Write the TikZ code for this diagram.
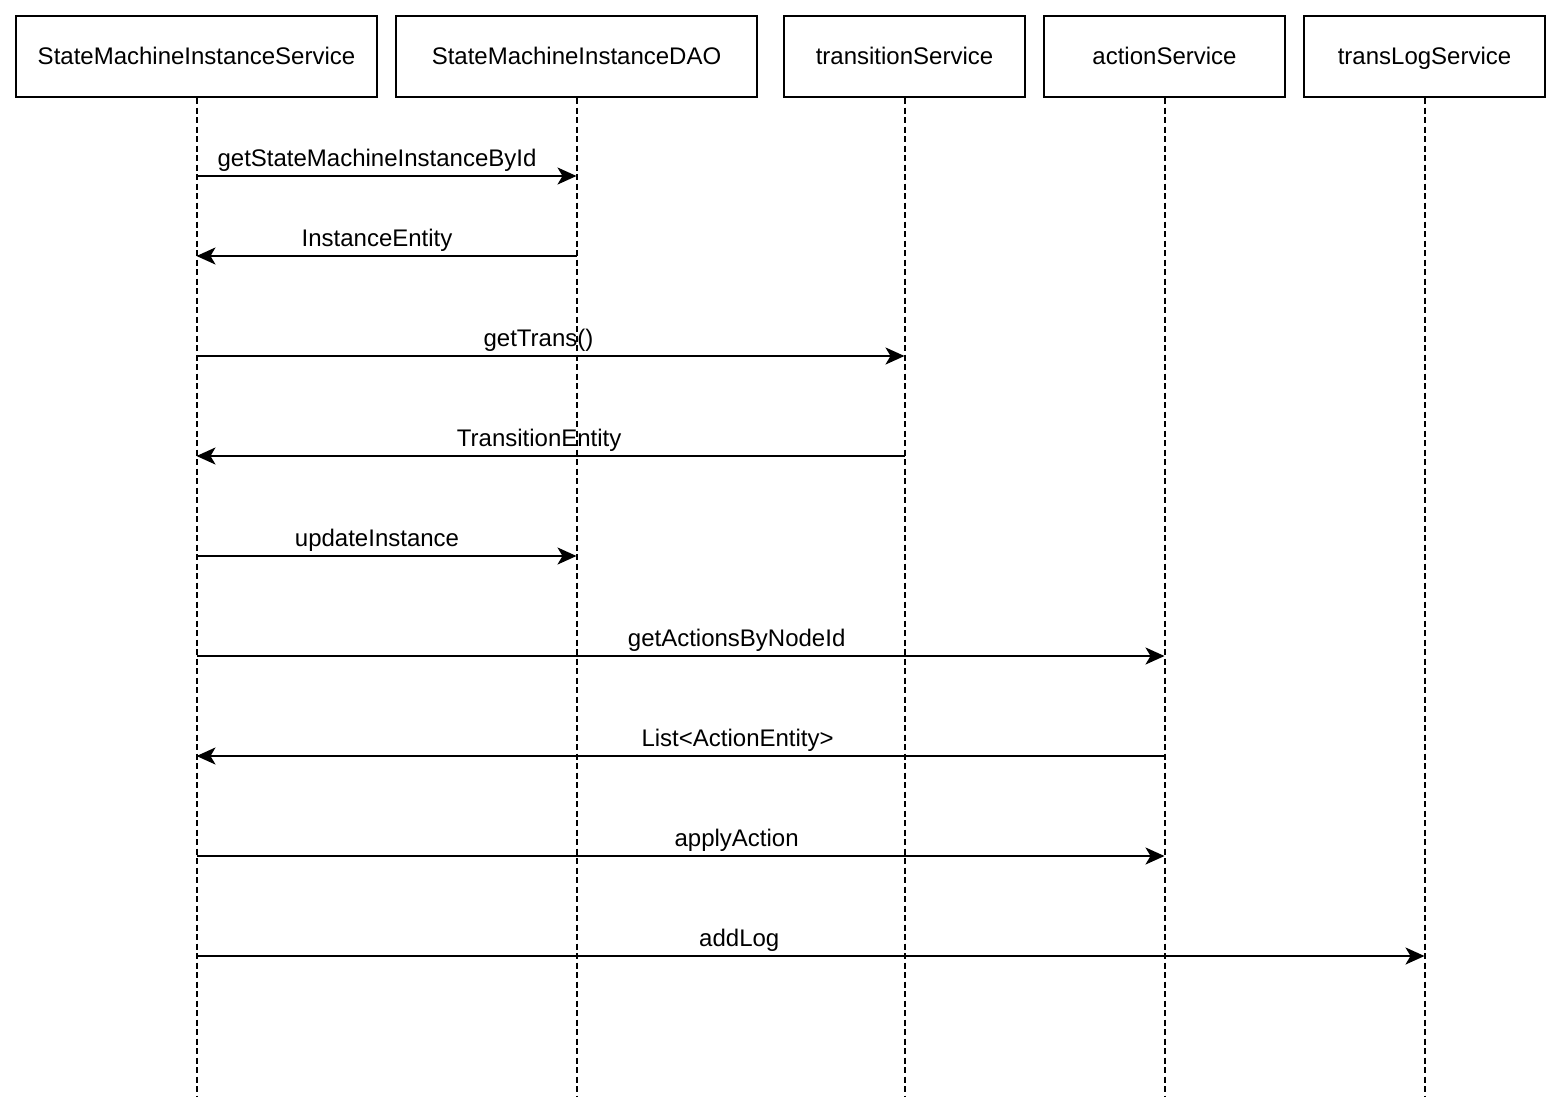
\documentclass[tikz,border=0pt]{standalone}
\usepackage{fontspec}
\setmainfont{Liberation Sans}
\usetikzlibrary{arrows.meta}
\begin{document}
\begin{tikzpicture}[x=1pt,y=-1pt,
  actor/.style={draw, line width=2pt, minimum height=81pt, inner sep=0pt, text height=15.5pt, text depth=0pt, font=\fontsize{24}{27}\selectfont},
  life/.style={line width=2pt, dash pattern=on 6pt off 3.5pt},
  msg/.style={line width=2pt, -{Stealth[length=19pt,width=17pt,inset=5pt]}},
  lbl/.style={anchor=base, font=\fontsize{24}{27}\selectfont, inner sep=0pt, yshift=10pt}]
\useasboundingbox (0,0) rectangle (1562,1114);
\node[actor, minimum width=361pt] (s1) at (196.5,56.5) {StateMachineInstanceService};
\node[actor, minimum width=361pt] (s2) at (576.5,56.5) {StateMachineInstanceDAO};
\node[actor, minimum width=241pt] (s3) at (904.5,56.5) {transitionService};
\node[actor, minimum width=241pt] (s4) at (1164.5,56.5) {actionService};
\node[actor, minimum width=241pt] (s5) at (1424.5,56.5) {transLogService};
\foreach \i/\x in {1/196.5,2/576.5,3/904.5,4/1164.5,5/1424.5}{
  \coordinate (e\i) at (\x,1096);
  \draw[life] (s\i.south) -- (e\i);
}
% message points
\foreach \k/\y in {1/176,2/256,3/356,4/456,5/556,6/656,7/756,8/856,9/956}{
  \foreach \i/\x in {1/196.5,2/576.5,3/904.5,4/1164.5,5/1424.5}{
    \coordinate (p\k-\i) at (\x,\y);
  }
}
\draw[msg] (p1-1) -- node[lbl, pos=0.475]{getStateMachineInstanceById} (p1-2);
\draw[msg] (p2-2) -- node[lbl, pos=0.525]{InstanceEntity} (p2-1);
\draw[msg] (p3-1) -- node[lbl, pos=0.483]{getTrans()} (p3-3);
\draw[msg] (p4-3) -- node[lbl, pos=0.516]{TransitionEntity} (p4-1);
\draw[msg] (p5-1) -- node[lbl, pos=0.475]{updateInstance} (p5-2);
\draw[msg] (p6-1) -- node[lbl, pos=0.558]{getActionsByNodeId} (p6-4);
\draw[msg] (p7-4) -- node[lbl, pos=0.441]{List<ActionEntity>} (p7-1);
\draw[msg] (p8-1) -- node[lbl, pos=0.558]{applyAction} (p8-4);
\draw[msg] (p9-1) -- node[lbl, pos=0.442]{addLog} (p9-5);
\end{tikzpicture}
\end{document}
